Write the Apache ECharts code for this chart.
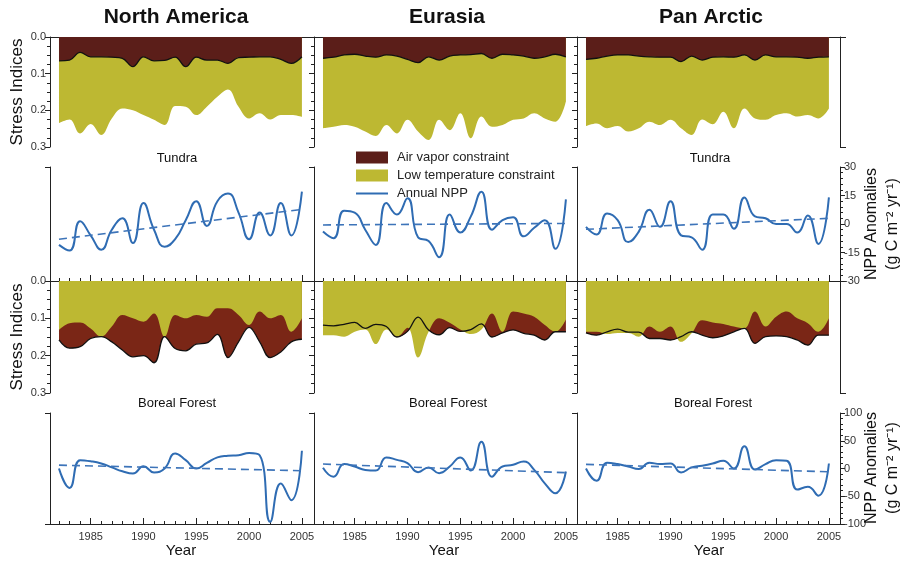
<!DOCTYPE html>
<html><head><meta charset="utf-8">
<script src="https://cdn.jsdelivr.net/npm/echarts@6/dist/echarts.min.js"></script>
<style>html,body{margin:0;padding:0;background:#fff}#c{width:906px;height:563px}</style>
</head><body><div id="c"></div><script>
// ---------- data ----------
const years = [1982,1983,1984,1985,1986,1987,1988,1989,1990,1991,1992,1993,1994,1995,1996,1997,1998,1999,2000,2001,2002,2003,2004,2005];
const majorYears = [1985,1990,1995,2000,2005];
const regions = ['North America','Eurasia','Pan Arctic'];

// Tundra stress indices
const naTunVapor = [0.065,0.063,0.042,0.054,0.054,0.055,0.058,0.081,0.054,0.065,0.064,0.055,0.081,0.055,0.063,0.063,0.072,0.056,0.055,0.054,0.054,0.061,0.072,0.054];
const naTunTemp  = [0.235,0.225,0.263,0.237,0.267,0.222,0.195,0.200,0.213,0.226,0.240,0.188,0.190,0.213,0.190,0.163,0.143,0.190,0.222,0.208,0.225,0.213,0.213,0.218];
const euTunVapor = [0.058,0.055,0.049,0.047,0.052,0.055,0.049,0.052,0.061,0.070,0.054,0.063,0.052,0.049,0.048,0.045,0.058,0.047,0.049,0.052,0.058,0.054,0.047,0.054];
const euTunTemp  = [0.249,0.245,0.240,0.245,0.258,0.270,0.240,0.263,0.226,0.258,0.281,0.226,0.254,0.208,0.276,0.217,0.245,0.240,0.226,0.222,0.208,0.222,0.231,0.176];
const paTunVapor = [0.061,0.058,0.052,0.049,0.049,0.052,0.054,0.055,0.055,0.067,0.052,0.063,0.055,0.054,0.055,0.049,0.063,0.049,0.054,0.054,0.055,0.058,0.055,0.054];
const paTunTemp  = [0.243,0.236,0.249,0.243,0.258,0.249,0.231,0.240,0.226,0.249,0.267,0.225,0.238,0.204,0.249,0.195,0.222,0.226,0.213,0.208,0.217,0.213,0.222,0.195];

// Boreal forest stress indices
const naBorVapor = [0.158,0.180,0.176,0.154,0.149,0.163,0.185,0.203,0.200,0.219,0.149,0.181,0.187,0.169,0.166,0.143,0.205,0.163,0.124,0.163,0.205,0.190,0.163,0.156];
const naBorTemp  = [0.131,0.113,0.111,0.127,0.149,0.122,0.091,0.100,0.109,0.087,0.149,0.091,0.100,0.091,0.096,0.073,0.073,0.091,0.118,0.082,0.100,0.091,0.136,0.100];
const euBorVapor = [0.118,0.120,0.116,0.111,0.127,0.116,0.122,0.150,0.135,0.097,0.131,0.144,0.125,0.135,0.130,0.115,0.150,0.139,0.131,0.140,0.145,0.158,0.136,0.136];
const euBorTemp  = [0.145,0.145,0.149,0.136,0.130,0.169,0.130,0.149,0.125,0.205,0.136,0.100,0.112,0.130,0.142,0.130,0.087,0.136,0.082,0.087,0.096,0.118,0.136,0.103];
const paBorVapor = [0.139,0.145,0.136,0.129,0.137,0.137,0.154,0.154,0.158,0.149,0.136,0.145,0.152,0.147,0.136,0.127,0.167,0.149,0.147,0.149,0.158,0.172,0.145,0.145];
const paBorTemp  = [0.136,0.136,0.142,0.139,0.139,0.149,0.122,0.136,0.122,0.163,0.140,0.105,0.111,0.115,0.122,0.127,0.082,0.122,0.096,0.082,0.100,0.113,0.136,0.100];

// Annual NPP anomalies (g C m-2 yr-1)
const naTunNPP = [-11,-14,1.5,-6,-13.5,-3,3,-10,11,-3,-12,-8,2,12,-1,12,16,6,-8,6,-6,11,-6,17];
const euTunNPP = [-4,-7.5,7,6,-3,-11,11,5,13.5,-7,-9,-17.5,5,-4.5,4,17,-3,2,3.5,-6.5,-2,2,-13,13];
const paTunNPP = [-1.5,-5.5,5.5,2,-9.5,-4,7.5,-1.5,12,-6,-7,-13.5,5,5,-2.5,14,4,3,0,0,-4.5,4.5,-10.5,14];
const naBorNPP = [0,-35,15,13,9,2,-5,-9,4,-7,0,27,15,0,10,20,23,24,28,24,-96,-27,-57,32];
const euBorNPP = [1.5,-14.7,8,3.5,-2.5,-3.6,20,15.6,9.6,-6.6,2,-8.4,3.6,20,-3.6,48,-14.7,3.6,6.6,12.6,-2.4,-26.7,-44.7,-5.4];
const paBorNPP = [0,-22,10.5,8,3.6,-1,10.5,8,9,-7,2,5,9,14,0,40,-2,8,15,14,-38,-33,-49,9];

// Linear trend end values (1982, 2005)
const naTunTrend = [-8, 7.7];
const euTunTrend = [-0.5, 0.3];
const paTunTrend = [-2.8, 3];
const naBorTrend = [6, -4];
const euBorTrend = [8, -7.5];
const paBorTrend = [7.5, -6];

const stressTicks = [0, 0.1, 0.2, 0.3];
const tunNppTicks = [30, 15, 0, -15, -30];
const borNppTicks = [100, 50, 0, -50, -100];

// ---------- layout / style ----------
const FONT = "'Liberation Sans', Arial, Helvetica, sans-serif";
const olive = '#bdb832', brownTop = '#5b1e19', brownBor = '#7a2616', blue = '#2f6cb3', trendBlue = '#3d74b9', axisCol = '#222';
const colLeft = [50, 314, 577], colW = 263;
const rowTop = [37, 167, 281, 413], rowH = [110, 114, 112, 111];
const xMin = 1981.15, xMax = 2006.05;

const stressRows = [
  [[naTunVapor, naTunTemp], [euTunVapor, euTunTemp], [paTunVapor, paTunTemp]],
  [[naBorVapor, naBorTemp], [euBorVapor, euBorTemp], [paBorVapor, paBorTemp]]
];
const nppRows = [
  [[naTunNPP, naTunTrend], [euTunNPP, euTunTrend], [paTunNPP, paTunTrend]],
  [[naBorNPP, naBorTrend], [euBorNPP, euBorTrend], [paBorNPP, paBorTrend]]
];
const zip = arr => years.map((y, i) => [y, arr[i]]);

const grid = [], xAxis = [], yAxis = [], series = [];
const lineSt = {color: axisCol, width: 1};

for (let r = 0; r < 4; r++) {
  const stress = (r === 0 || r === 2);
  for (let c = 0; c < 3; c++) {
    const g = r * 3 + c;
    grid.push({left: colLeft[c], top: rowTop[r], width: colW, height: rowH[r]});
    xAxis.push({
      type: 'value', gridIndex: g, min: xMin, max: xMax,
      position: stress ? 'top' : 'bottom',
      axisLine: {show: true, onZero: false, lineStyle: lineSt},
      axisTick: stress ? {show: false} : {show: true, inside: true, length: 3, customValues: years, lineStyle: lineSt},
      axisLabel: {show: false}, splitLine: {show: false}
    });
    if (stress) {
      yAxis.push({
        type: 'value', gridIndex: g, position: 'left', min: 0, max: 0.3, interval: 0.1, inverse: true,
        axisLine: {show: true, onZero: false, lineStyle: lineSt},
        axisTick: {show: true, inside: false, length: 5, lineStyle: lineSt},
        minorTick: {show: true, splitNumber: 4, length: 3, lineStyle: lineSt},
        axisLabel: {show: c === 0, fontSize: 11, color: '#333', fontFamily: FONT, margin: 4,
          formatter: v => v.toFixed(1)},
        splitLine: {show: false}
      });
    } else {
      const lim = r === 1 ? 30 : 100;
      yAxis.push({
        type: 'value', gridIndex: g, position: 'left', min: -lim, max: lim, interval: 2 * lim,
        axisLine: {show: true, onZero: false, lineStyle: lineSt},
        axisTick: {show: true, inside: false, length: 5, lineStyle: lineSt},
        axisLabel: {show: false}, splitLine: {show: false}
      });
    }
  }
}
// extra x axes for 5-year ticks + labels on NPP rows
[1, 3].forEach(r => {
  for (let c = 0; c < 3; c++) {
    const g = r * 3 + c;
    xAxis.push({
      type: 'value', gridIndex: g, min: xMin, max: xMax, position: 'bottom',
      axisLine: {show: false, onZero: false},
      axisTick: {show: true, inside: true, length: 6, customValues: majorYears, lineStyle: lineSt},
      axisLabel: {show: r === 3, customValues: majorYears, fontSize: 11, color: '#333', fontFamily: FONT, margin: 7,
        formatter: v => String(v)},
      splitLine: {show: false}
    });
  }
});
// right axes for the Pan Arctic column
for (let r = 0; r < 4; r++) {
  const g = r * 3 + 2;
  const stress = (r === 0 || r === 2);
  if (stress) {
    yAxis.push({
      type: 'value', gridIndex: g, position: 'right', min: 0, max: 0.3, interval: 0.3, inverse: true,
      axisLine: {show: true, onZero: false, lineStyle: lineSt},
      axisTick: {show: true, inside: false, length: 6, lineStyle: lineSt},
      axisLabel: {show: false}, splitLine: {show: false}
    });
  } else {
    const ticks = r === 1 ? tunNppTicks : borNppTicks;
    yAxis.push({
      type: 'value', gridIndex: g, position: 'right', min: ticks[4], max: ticks[0], interval: ticks[0] - ticks[1],
      axisLine: {show: true, onZero: false, lineStyle: lineSt},
      axisTick: {show: true, inside: false, length: 5, lineStyle: lineSt},
      minorTick: {show: true, splitNumber: 5, length: 3, lineStyle: lineSt},
      axisLabel: {show: true, fontSize: 11, color: '#333', fontFamily: FONT, margin: 4},
      splitLine: {show: false}
    });
  }
}

// series
for (let s = 0; s < 2; s++) {
  const r = s * 2;
  for (let c = 0; c < 3; c++) {
    const g = r * 3 + c;
    const [vap, tmp] = stressRows[s][c];
    const base = {type: 'line', xAxisIndex: g, yAxisIndex: g, smooth: 0.4, symbol: 'none', silent: true, animation: false};
    if (r === 0) {
      series.push(Object.assign({}, base, {name: 'Low temperature constraint', data: zip(tmp),
        lineStyle: {width: 0, opacity: 0}, itemStyle: {color: olive}, areaStyle: {color: olive, opacity: 1}}));
      series.push(Object.assign({}, base, {name: 'Air vapor constraint', data: zip(vap),
        lineStyle: {width: 1.3, color: '#111'}, itemStyle: {color: brownTop}, areaStyle: {color: brownTop, opacity: 1}}));
    } else {
      series.push(Object.assign({}, base, {name: 'Air vapor constraint', data: zip(vap),
        lineStyle: {width: 0, opacity: 0}, itemStyle: {color: brownTop}, areaStyle: {color: brownBor, opacity: 1}}));
      series.push(Object.assign({}, base, {name: 'Low temperature constraint', data: zip(tmp),
        lineStyle: {width: 0, opacity: 0}, itemStyle: {color: olive}, areaStyle: {color: olive, opacity: 1}}));
      series.push(Object.assign({}, base, {name: 'Air vapor line', data: zip(vap),
        lineStyle: {width: 1.3, color: '#111'}, itemStyle: {color: '#111'}}));
    }
  }
}
for (let s = 0; s < 2; s++) {
  const r = s * 2 + 1;
  for (let c = 0; c < 3; c++) {
    const g = r * 3 + c;
    const [npp, trend] = nppRows[s][c];
    series.push({type: 'line', name: 'Annual NPP', xAxisIndex: g, yAxisIndex: g, data: zip(npp),
      smooth: 0.5, symbol: 'none', silent: true, animation: false,
      lineStyle: {width: 2, color: blue}, itemStyle: {color: blue}});
    series.push({type: 'line', name: 'Trend', xAxisIndex: g, yAxisIndex: g,
      data: [[years[0], trend[0]], [years[years.length - 1], trend[1]]],
      symbol: 'none', silent: true, animation: false,
      lineStyle: {width: 1.6, color: trendBlue, type: [8, 5]}, itemStyle: {color: trendBlue}});
  }
}

// texts
const txt = (text, x, y, size, extra) => ({
  type: 'text', x, y, z: 100,
  style: Object.assign({text, fontSize: size, fontFamily: FONT, fill: '#111', align: 'center', verticalAlign: 'middle'}, extra || {})
});
const graphic = [
  txt(regions[0], 176, 17, 21, {fontWeight: 'bold'}),
  txt(regions[1], 447, 17, 21, {fontWeight: 'bold'}),
  txt(regions[2], 711, 17, 21, {fontWeight: 'bold'}),
  txt('Tundra', 177, 158, 13),
  txt('Tundra', 710, 158, 13),
  txt('Boreal Forest', 177, 403, 13),
  txt('Boreal Forest', 448, 403, 13),
  txt('Boreal Forest', 713, 403, 13),
  txt('Year', 181, 551, 15),
  txt('Year', 444, 551, 15),
  txt('Year', 709, 551, 15),
  Object.assign(txt('Stress Indices', 17, 92, 17), {rotation: Math.PI / 2}),
  Object.assign(txt('Stress Indices', 17, 337, 17), {rotation: Math.PI / 2}),
  Object.assign(txt('NPP Anomalies\n(g C m\u207B\u00B2 yr\u207B\u00B9)', 882, 224, 16, {lineHeight: 21}), {rotation: Math.PI / 2}),
  Object.assign(txt('NPP Anomalies\n(g C m\u207B\u00B2 yr\u207B\u00B9)', 882, 468, 16, {lineHeight: 21}), {rotation: Math.PI / 2})
];

const chart = echarts.init(document.getElementById('c'), null, {renderer: 'canvas'});
chart.setOption({
  animation: false,
  backgroundColor: '#fff',
  grid, xAxis, yAxis, series, graphic,
  legend: {
    left: 351, top: 146, orient: 'vertical', itemWidth: 32, itemHeight: 12, itemGap: 5,
    selectedMode: false,
    textStyle: {fontSize: 13, color: '#222', fontFamily: FONT, padding: [0, 0, 0, 4]},
    data: [
      {name: 'Air vapor constraint', icon: 'rect', itemStyle: {color: brownTop, borderWidth: 0}},
      {name: 'Low temperature constraint', icon: 'rect', itemStyle: {color: olive, borderWidth: 0}},
      {name: 'Annual NPP', icon: 'path://M0,0 L32,0 L32,2 L0,2 Z', itemStyle: {color: blue, borderWidth: 0}}
    ]
  }
});
</script></body></html>
